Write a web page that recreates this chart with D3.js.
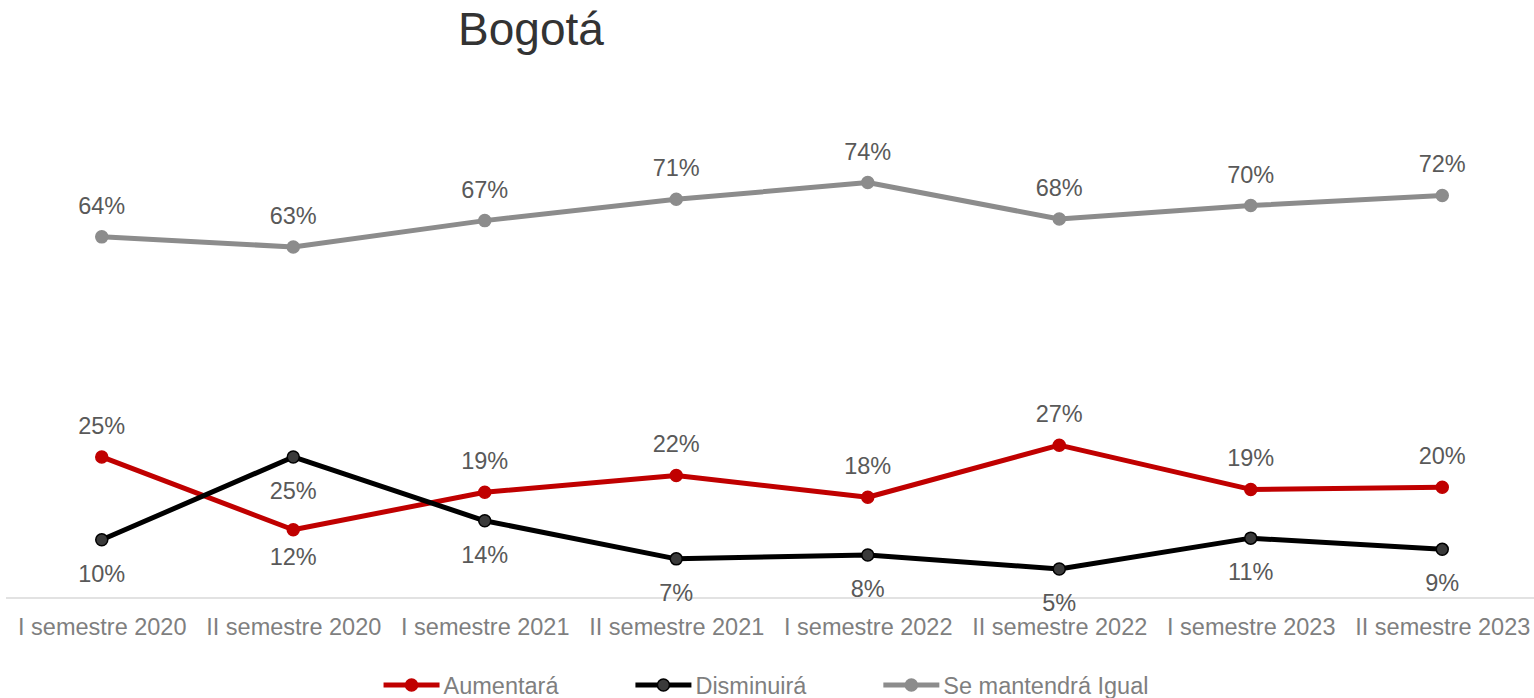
<!DOCTYPE html>
<html lang="es">
<head>
<meta charset="UTF-8">
<title>Bogotá</title>
<style>
  body { margin: 0; background: #fff; }
  svg { display: block; font-family: "Liberation Sans", Arial, sans-serif; }
  .axis path { stroke: #d9d9d9; stroke-width: 1.5; }
  .axis line { display: none; }
  .axis text { fill: #7f7f7f; font-size: 23.5px; }
  .lbl { fill: #595959; font-size: 23.5px; text-anchor: middle; }
  .legend text { fill: #7f7f7f; font-size: 23.5px; }
</style>
</head>
<body>
<script src="https://d3js.org/d3.v7.min.js"></script>
<svg id="svg"></svg>
<script>
// data (percent)
var categories = ["I semestre 2020", "II semestre 2020", "I semestre 2021", "II semestre 2021",
                  "I semestre 2022", "II semestre 2022", "I semestre 2023", "II semestre 2023"];
var aumentara = [25.1, 12.1, 18.8, 21.8, 17.9, 27.2, 19.3, 19.7];
var disminuira = [10.3, 25.1, 13.7, 6.9, 7.6, 5.1, 10.6, 8.6];
var igual = [64.4, 62.6, 67.3, 71.1, 74.1, 67.6, 70.0, 71.8];
// where each data label sits: a = above, b = below
var aumentaraPos = ["a", "b", "a", "a", "a", "a", "a", "a"];
var disminuiraPos = ["b", "b", "b", "b", "b", "b", "b", "b"];
var igualPos = ["a", "a", "a", "a", "a", "a", "a", "a"];

var w = 1534, h = 698;
var svg = d3.select("#svg").attr("width", w).attr("height", h);

var series = [
  { name: "Aumentará", values: aumentara, pos: aumentaraPos, line: "#c00000", fill: "#c00000", stroke: "#c00000", below: 35 },
  { name: "Disminuirá", values: disminuira, pos: disminuiraPos, line: "#000000", fill: "#3a3a3a", stroke: "#000000", below: 42 },
  { name: "Se mantendrá Igual", values: igual, pos: igualPos, line: "#8c8c8c", fill: "#8c8c8c", stroke: "#8c8c8c", below: 40 }
];

var x = d3.scalePoint().domain(categories).range([6, 1538]).padding(0.5);
var y = d3.scaleLinear().domain([0, 80]).range([597.5, 149.5]);

// title
svg.append("text")
  .attr("x", 531).attr("y", 45)
  .attr("text-anchor", "middle")
  .style("font-size", "46px")
  .style("fill", "#333333")
  .text("Bogotá");

// x axis
var xAxis = svg.append("g")
  .attr("class", "axis")
  .attr("transform", "translate(0," + y(0) + ")")
  .call(d3.axisBottom(x).tickSize(0).tickSizeOuter(0));
xAxis.select(".domain").attr("d", "M6,0.5H1534");
xAxis.selectAll("text").attr("dy", null).attr("y", 37);

var line = d3.line()
  .x(function (d, i) { return x(categories[i]); })
  .y(function (d) { return y(d); });

var fmt = function (v) { return Math.round(v) + "%"; };

series.forEach(function (s) {
  var g = svg.append("g");
  g.append("path")
    .datum(s.values)
    .attr("fill", "none")
    .attr("stroke", s.line)
    .attr("stroke-width", 5)
    .attr("stroke-linejoin", "round")
    .attr("d", line);
  g.selectAll("circle")
    .data(s.values)
    .enter().append("circle")
    .attr("cx", function (d, i) { return x(categories[i]); })
    .attr("cy", function (d) { return y(d); })
    .attr("r", 6)
    .attr("fill", s.fill)
    .attr("stroke", s.stroke)
    .attr("stroke-width", 1.5);
  g.selectAll("text")
    .data(s.values)
    .enter().append("text")
    .attr("class", "lbl")
    .attr("x", function (d, i) { return x(categories[i]); })
    .attr("y", function (d, i) { return y(d) + (s.pos[i] == "a" ? -23 : s.below); })
    .text(fmt);
});

// legend
var legend = svg.append("g").attr("class", "legend");
var items = legend.selectAll("g")
  .data(series)
  .enter().append("g");
items.append("line")
  .attr("x1", 0).attr("x2", 56)
  .attr("y1", 0).attr("y2", 0)
  .attr("stroke", function (d) { return d.line; })
  .attr("stroke-width", 5);
items.append("circle")
  .attr("cx", 28).attr("cy", 0).attr("r", 6)
  .attr("fill", function (d) { return d.fill; })
  .attr("stroke", function (d) { return d.stroke; })
  .attr("stroke-width", 1.5);
items.append("text")
  .attr("x", 60).attr("y", 8.5)
  .text(function (d) { return d.name; });

var offs = [], cur = 0;
items.each(function () {
  offs.push(cur);
  cur += this.getBBox().width + 76;
});
var total = cur - 76;
var start = 766 - total / 2;
items.attr("transform", function (d, i) { return "translate(" + (start + offs[i]) + ",685)"; });
</script>
</body>
</html>
